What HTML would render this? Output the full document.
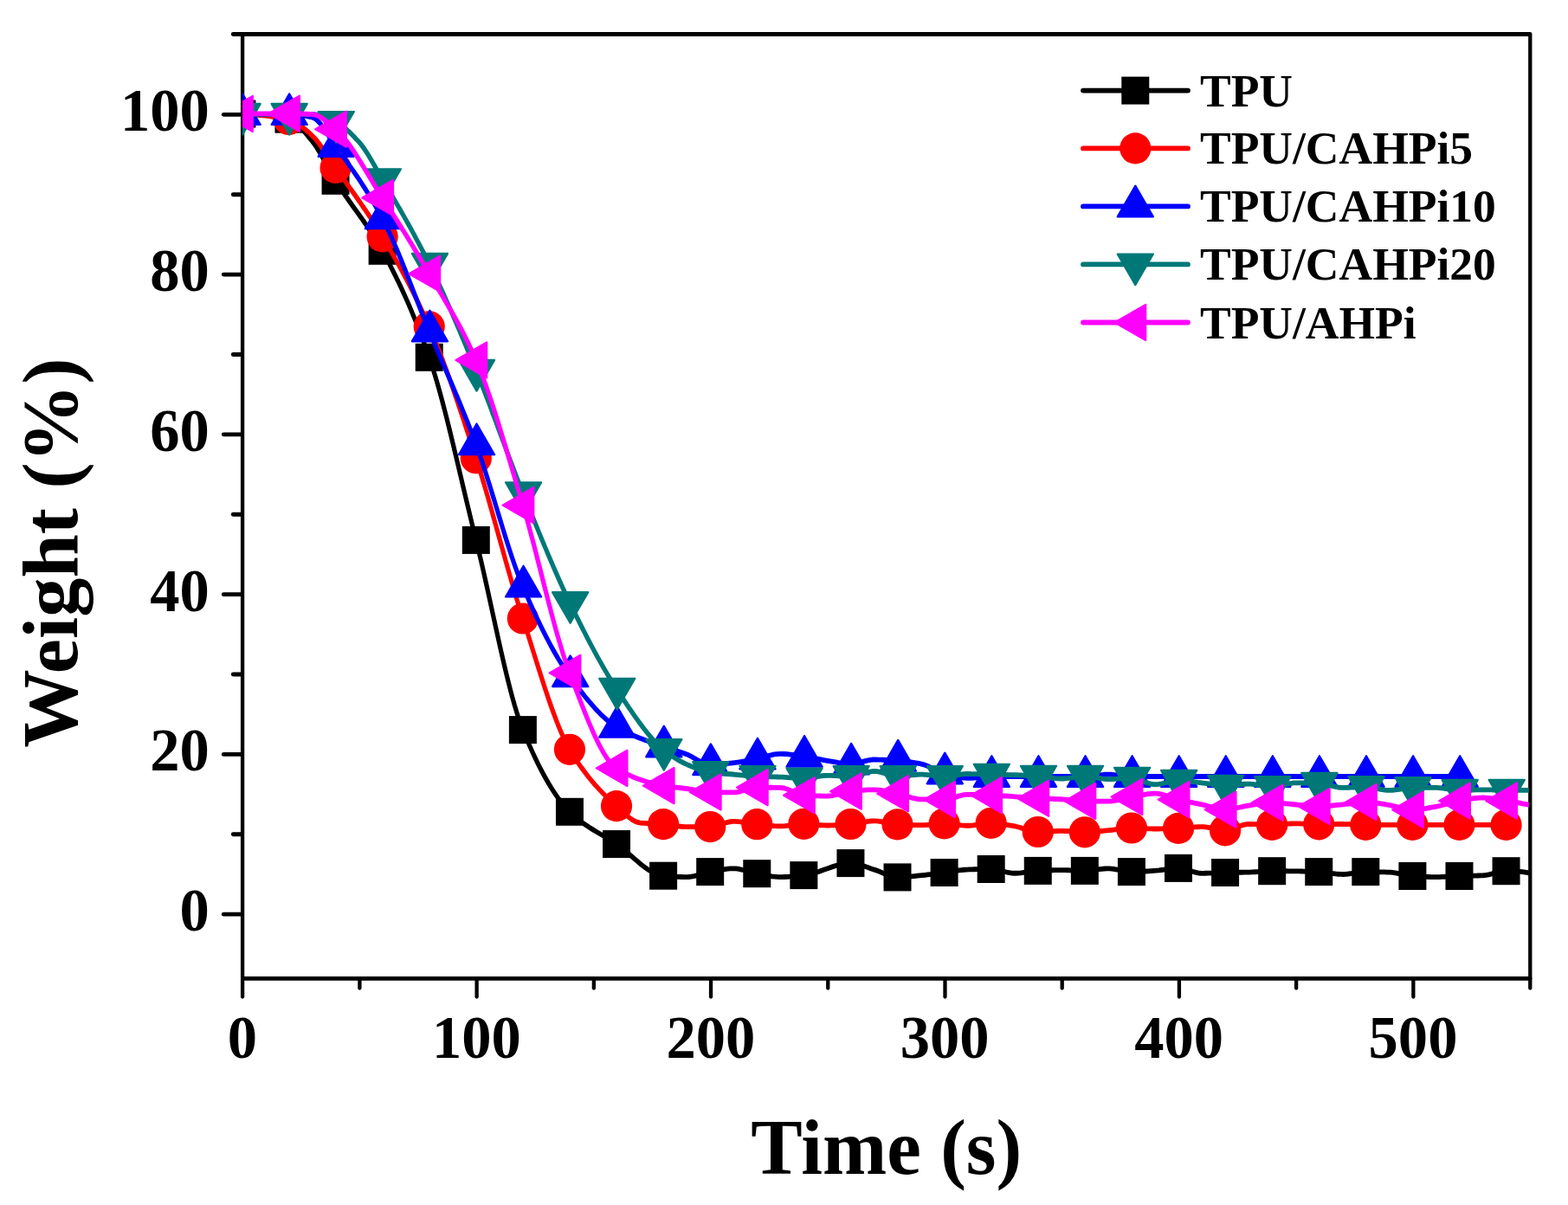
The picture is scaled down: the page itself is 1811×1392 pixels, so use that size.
<!DOCTYPE html>
<html><head><meta charset="utf-8"><title>Weight vs Time</title>
<style>
html,body{margin:0;padding:0;background:#fff;}
body{width:1811px;height:1392px;overflow:hidden;}
svg{display:block;}
text{font-family:"Liberation Serif",serif;font-weight:bold;fill:#000;}
.tk{font-size:68px;}
.ti{font-size:90px;}
.lg{font-size:53.5px;}
</style></head><body>
<svg width="1811" height="1392" viewBox="0 0 1811 1392">
<rect width="1811" height="1392" fill="#fff"/>
<defs><clipPath id="c"><rect x="280.0" y="39.45" width="1485.6999999999998" height="1090.95"/></clipPath></defs>

<g stroke="#000" stroke-width="4.9" stroke-linecap="round" fill="none">
<line x1="280.1" y1="39.45" x2="1766.60" y2="39.45"/>
<line x1="280.80" y1="1130.4" x2="1766.60" y2="1130.4"/>
<line x1="279.6" y1="1056.13" x2="258.3" y2="1056.13"/>
<line x1="279.6" y1="871.38" x2="258.3" y2="871.38"/>
<line x1="279.6" y1="686.63" x2="258.3" y2="686.63"/>
<line x1="279.6" y1="501.87" x2="258.3" y2="501.87"/>
<line x1="279.6" y1="317.12" x2="258.3" y2="317.12"/>
<line x1="279.6" y1="132.37" x2="258.3" y2="132.37"/>
<line x1="279.6" y1="963.75" x2="269.3" y2="963.75"/>
<line x1="279.6" y1="779.00" x2="269.3" y2="779.00"/>
<line x1="279.6" y1="594.25" x2="269.3" y2="594.25"/>
<line x1="279.6" y1="409.50" x2="269.3" y2="409.50"/>
<line x1="279.6" y1="224.75" x2="269.3" y2="224.75"/>
<line x1="279.6" y1="39.45" x2="269.3" y2="39.45"/>
</g>
<g stroke="#000" stroke-width="4.3" stroke-linecap="round" fill="none">
<line x1="280.1" y1="39.45" x2="280.1" y2="1130.4"/>
<line x1="1767.3" y1="39.45" x2="1767.3" y2="1130.4"/>
<line x1="280.10" y1="1130.4" x2="280.10" y2="1151.5"/>
<line x1="550.63" y1="1130.4" x2="550.63" y2="1151.5"/>
<line x1="821.06" y1="1130.4" x2="821.06" y2="1151.5"/>
<line x1="1091.49" y1="1130.4" x2="1091.49" y2="1151.5"/>
<line x1="1361.92" y1="1130.4" x2="1361.92" y2="1151.5"/>
<line x1="1632.35" y1="1130.4" x2="1632.35" y2="1151.5"/>
<line x1="415.41" y1="1130.4" x2="415.41" y2="1141.5"/>
<line x1="685.85" y1="1130.4" x2="685.85" y2="1141.5"/>
<line x1="956.27" y1="1130.4" x2="956.27" y2="1141.5"/>
<line x1="1226.70" y1="1130.4" x2="1226.70" y2="1141.5"/>
<line x1="1497.13" y1="1130.4" x2="1497.13" y2="1141.5"/>
<line x1="1767.30" y1="1130.4" x2="1767.30" y2="1141.5"/>
</g>
<g clip-path="url(#c)">
<path transform="scale(1,1.12)" d="M279.4,117.41 L282.4,117.43 L285.4,117.48 L288.4,117.57 L291.4,117.69 L294.4,117.85 L297.4,118.04 L300.4,118.27 L303.4,118.53 L306.4,118.82 L309.4,119.15 L312.4,119.51 L315.4,119.90 L318.4,120.33 L321.4,120.79 L324.4,121.28 L327.4,121.80 L330.4,122.35 L333.4,122.93 L336.4,123.84 L339.4,125.35 L342.4,127.38 L345.4,129.83 L348.4,132.62 L351.4,135.66 L354.4,138.86 L357.4,142.14 L360.4,145.41 L363.4,148.91 L366.4,152.94 L369.4,157.38 L372.4,162.12 L375.4,167.03 L378.4,172.01 L381.4,176.95 L384.4,181.71 L387.4,186.20 L390.4,190.42 L393.4,194.51 L396.4,198.49 L399.4,202.37 L402.4,206.18 L405.4,209.94 L408.4,213.66 L411.4,217.38 L414.4,221.10 L417.4,224.85 L420.4,228.65 L423.4,232.53 L426.4,236.49 L429.4,240.56 L432.4,244.76 L435.4,249.12 L438.4,253.65 L441.4,258.36 L444.4,263.24 L447.4,268.23 L450.4,273.33 L453.4,278.55 L456.4,283.89 L459.4,289.37 L462.4,294.98 L465.4,300.74 L468.4,306.65 L471.4,312.72 L474.4,318.96 L477.4,325.36 L480.4,331.95 L483.4,338.71 L486.4,345.67 L489.4,352.83 L492.4,360.18 L495.4,367.75 L498.4,375.68 L501.4,384.15 L504.4,393.12 L507.4,402.55 L510.4,412.38 L513.4,422.57 L516.4,433.08 L519.4,443.84 L522.4,454.83 L525.4,465.98 L528.4,477.25 L531.4,488.60 L534.4,499.98 L537.4,511.34 L540.4,522.63 L543.4,533.81 L546.4,544.82 L549.4,555.63 L552.4,566.47 L555.4,577.76 L558.4,589.41 L561.4,601.35 L564.4,613.49 L567.4,625.75 L570.4,638.04 L573.4,650.28 L576.4,662.39 L579.4,674.29 L582.4,685.89 L585.4,697.10 L588.4,707.85 L591.4,718.05 L594.4,727.62 L597.4,736.48 L600.4,744.53 L603.4,751.71 L606.4,758.20 L609.4,764.50 L612.4,770.61 L615.4,776.52 L618.4,782.23 L621.4,787.74 L624.4,793.04 L627.4,798.13 L630.4,803.01 L633.4,807.68 L636.4,812.12 L639.4,816.35 L642.4,820.34 L645.4,824.11 L648.4,827.65 L651.4,830.95 L654.4,834.01 L657.4,836.82 L660.4,839.42 L663.4,841.85 L666.4,844.13 L669.4,846.27 L672.4,848.29 L675.4,850.21 L678.4,852.03 L681.4,853.78 L684.4,855.46 L687.4,857.10 L690.4,858.70 L693.4,860.28 L696.4,861.86 L699.4,863.45 L702.4,865.06 L705.4,866.71 L708.4,868.42 L711.4,870.19 L714.4,872.07 L717.4,874.10 L720.4,876.24 L723.4,878.48 L726.4,880.78 L729.4,883.12 L732.4,885.46 L735.4,887.77 L738.4,890.03 L741.4,892.21 L744.4,894.28 L747.4,896.21 L750.4,897.97 L753.4,899.54 L756.4,900.87 L759.4,901.96 L762.4,902.75 L765.4,903.24 L768.4,903.48 L771.4,903.70 L774.4,903.90 L777.4,904.08 L780.4,904.23 L783.4,904.36 L786.4,904.46 L789.4,904.52 L792.4,904.55 L795.4,904.48 L798.4,904.15 L801.4,903.63 L804.4,902.97 L807.4,902.21 L810.4,901.41 L813.4,900.63 L816.4,899.92 L819.4,899.33 L822.4,898.85 L825.4,898.35 L828.4,897.84 L831.4,897.34 L834.4,896.88 L837.4,896.47 L840.4,896.15 L843.4,895.92 L846.4,895.81 L849.4,895.87 L852.4,896.18 L855.4,896.69 L858.4,897.34 L861.4,898.08 L864.4,898.86 L867.4,899.63 L870.4,900.34 L873.4,900.93 L876.4,901.41 L879.4,901.92 L882.4,902.44 L885.4,902.95 L888.4,903.43 L891.4,903.85 L894.4,904.19 L897.4,904.43 L900.4,904.55 L903.4,904.54 L906.4,904.46 L909.4,904.33 L912.4,904.16 L915.4,903.95 L918.4,903.70 L921.4,903.43 L924.4,903.15 L927.4,902.86 L930.4,902.53 L933.4,902.06 L936.4,901.46 L939.4,900.74 L942.4,899.93 L945.4,899.05 L948.4,898.12 L951.4,897.16 L954.4,896.19 L957.4,895.22 L960.4,894.29 L963.4,893.40 L966.4,892.59 L969.4,891.87 L972.4,891.25 L975.4,890.77 L978.4,890.44 L981.4,890.28 L984.4,890.33 L987.4,890.65 L990.4,891.21 L993.4,891.94 L996.4,892.80 L999.4,893.75 L1002.4,894.72 L1005.4,895.68 L1008.4,896.58 L1011.4,897.43 L1014.4,898.45 L1017.4,899.58 L1020.4,900.75 L1023.4,901.90 L1026.4,902.95 L1029.4,903.83 L1032.4,904.47 L1035.4,904.79 L1038.4,904.81 L1041.4,904.72 L1044.4,904.57 L1047.4,904.38 L1050.4,904.14 L1053.4,903.88 L1056.4,903.60 L1059.4,903.32 L1062.4,903.05 L1065.4,902.79 L1068.4,902.50 L1071.4,902.19 L1074.4,901.87 L1077.4,901.53 L1080.4,901.18 L1083.4,900.83 L1086.4,900.48 L1089.4,900.14 L1092.4,899.79 L1095.4,899.40 L1098.4,898.97 L1101.4,898.54 L1104.4,898.12 L1107.4,897.72 L1110.4,897.38 L1113.4,897.11 L1116.4,896.92 L1119.4,896.83 L1122.4,896.74 L1125.4,896.67 L1128.4,896.61 L1131.4,896.55 L1134.4,896.50 L1137.4,896.47 L1140.4,896.44 L1143.4,896.43 L1146.4,896.48 L1149.4,896.77 L1152.4,897.28 L1155.4,897.92 L1158.4,898.62 L1161.4,899.32 L1164.4,899.94 L1167.4,900.42 L1170.4,900.68 L1173.4,900.69 L1176.4,900.54 L1179.4,900.27 L1182.4,899.93 L1185.4,899.54 L1188.4,899.14 L1191.4,898.76 L1194.4,898.43 L1197.4,898.19 L1200.4,898.06 L1203.4,897.94 L1206.4,897.82 L1209.4,897.72 L1212.4,897.62 L1215.4,897.54 L1218.4,897.48 L1221.4,897.44 L1224.4,897.41 L1227.4,897.42 L1230.4,897.47 L1233.4,897.55 L1236.4,897.65 L1239.4,897.77 L1242.4,897.89 L1245.4,897.99 L1248.4,898.07 L1251.4,898.12 L1254.4,898.10 L1257.4,897.95 L1260.4,897.68 L1263.4,897.34 L1266.4,896.96 L1269.4,896.58 L1272.4,896.24 L1275.4,895.97 L1278.4,895.82 L1281.4,895.83 L1284.4,896.06 L1287.4,896.44 L1290.4,896.94 L1293.4,897.50 L1296.4,898.06 L1299.4,898.56 L1302.4,898.94 L1305.4,899.17 L1308.4,899.19 L1311.4,899.15 L1314.4,899.07 L1317.4,898.96 L1320.4,898.82 L1323.4,898.66 L1326.4,898.49 L1329.4,898.31 L1332.4,898.13 L1335.4,897.94 L1338.4,897.67 L1341.4,897.32 L1344.4,896.94 L1347.4,896.55 L1350.4,896.18 L1353.4,895.85 L1356.4,895.61 L1359.4,895.47 L1362.4,895.49 L1365.4,895.82 L1368.4,896.41 L1371.4,897.18 L1374.4,898.05 L1377.4,898.91 L1380.4,899.69 L1383.4,900.30 L1386.4,900.66 L1389.4,900.71 L1392.4,900.67 L1395.4,900.61 L1398.4,900.52 L1401.4,900.42 L1404.4,900.32 L1407.4,900.21 L1410.4,900.11 L1413.4,900.03 L1416.4,899.98 L1419.4,899.93 L1422.4,899.90 L1425.4,899.86 L1428.4,899.83 L1431.4,899.80 L1434.4,899.77 L1437.4,899.73 L1440.4,899.68 L1443.4,899.61 L1446.4,899.50 L1449.4,899.34 L1452.4,899.16 L1455.4,898.96 L1458.4,898.78 L1461.4,898.61 L1464.4,898.48 L1467.4,898.41 L1470.4,898.39 L1473.4,898.40 L1476.4,898.41 L1479.4,898.43 L1482.4,898.45 L1485.4,898.47 L1488.4,898.49 L1491.4,898.52 L1494.4,898.55 L1497.4,898.58 L1500.4,898.62 L1503.4,898.67 L1506.4,898.72 L1509.4,898.79 L1512.4,898.86 L1515.4,898.94 L1518.4,899.03 L1521.4,899.13 L1524.4,899.25 L1527.4,899.47 L1530.4,899.79 L1533.4,900.17 L1536.4,900.57 L1539.4,900.96 L1542.4,901.31 L1545.4,901.59 L1548.4,901.75 L1551.4,901.77 L1554.4,901.62 L1557.4,901.34 L1560.4,900.97 L1563.4,900.55 L1566.4,900.12 L1569.4,899.73 L1572.4,899.42 L1575.4,899.23 L1578.4,899.20 L1581.4,899.21 L1584.4,899.23 L1587.4,899.27 L1590.4,899.31 L1593.4,899.37 L1596.4,899.43 L1599.4,899.51 L1602.4,899.59 L1605.4,899.69 L1608.4,899.94 L1611.4,900.34 L1614.4,900.85 L1617.4,901.42 L1620.4,902.00 L1623.4,902.56 L1626.4,903.05 L1629.4,903.41 L1632.4,903.63 L1635.4,903.80 L1638.4,903.96 L1641.4,904.11 L1644.4,904.24 L1647.4,904.35 L1650.4,904.44 L1653.4,904.51 L1656.4,904.55 L1659.4,904.55 L1662.4,904.51 L1665.4,904.43 L1668.4,904.32 L1671.4,904.18 L1674.4,904.04 L1677.4,903.89 L1680.4,903.76 L1683.4,903.64 L1686.4,903.55 L1689.4,903.47 L1692.4,903.41 L1695.4,903.36 L1698.4,903.31 L1701.4,903.26 L1704.4,903.20 L1707.4,903.12 L1710.4,903.03 L1713.4,902.90 L1716.4,902.58 L1719.4,902.06 L1722.4,901.41 L1725.4,900.69 L1728.4,899.97 L1731.4,899.32 L1734.4,898.79 L1737.4,898.47 L1740.4,898.39 L1743.4,898.42 L1746.4,898.48 L1749.4,898.59 L1752.4,898.75 L1755.4,898.97 L1758.4,899.26 L1761.4,899.63 L1764.4,900.08 L1767.4,900.63 L1770.3,901.25" fill="none" stroke="#000000" stroke-width="5.2" stroke-linejoin="round" stroke-linecap="round"/>
<rect x="263.40" y="115.50" width="32.00" height="32.00" fill="#000000"/>
<rect x="317.48" y="121.70" width="32.00" height="32.00" fill="#000000"/>
<rect x="371.56" y="192.80" width="32.00" height="32.00" fill="#000000"/>
<rect x="425.64" y="273.80" width="32.00" height="32.00" fill="#000000"/>
<rect x="479.72" y="396.80" width="32.00" height="32.00" fill="#000000"/>
<rect x="533.80" y="607.90" width="32.00" height="32.00" fill="#000000"/>
<rect x="587.88" y="827.10" width="32.00" height="32.00" fill="#000000"/>
<rect x="641.96" y="921.80" width="32.00" height="32.00" fill="#000000"/>
<rect x="696.04" y="959.05" width="32.00" height="32.00" fill="#000000"/>
<rect x="750.12" y="995.70" width="32.00" height="32.00" fill="#000000"/>
<rect x="804.20" y="991.10" width="32.00" height="32.00" fill="#000000"/>
<rect x="858.28" y="993.20" width="32.00" height="32.00" fill="#000000"/>
<rect x="912.36" y="995.10" width="32.00" height="32.00" fill="#000000"/>
<rect x="966.44" y="981.10" width="32.00" height="32.00" fill="#000000"/>
<rect x="1020.52" y="997.40" width="32.00" height="32.00" fill="#000000"/>
<rect x="1074.60" y="992.00" width="32.00" height="32.00" fill="#000000"/>
<rect x="1128.68" y="988.00" width="32.00" height="32.00" fill="#000000"/>
<rect x="1182.76" y="989.90" width="32.00" height="32.00" fill="#000000"/>
<rect x="1236.84" y="989.90" width="32.00" height="32.00" fill="#000000"/>
<rect x="1290.92" y="991.10" width="32.00" height="32.00" fill="#000000"/>
<rect x="1345.00" y="986.90" width="32.00" height="32.00" fill="#000000"/>
<rect x="1399.08" y="992.00" width="32.00" height="32.00" fill="#000000"/>
<rect x="1453.16" y="990.20" width="32.00" height="32.00" fill="#000000"/>
<rect x="1507.24" y="991.10" width="32.00" height="32.00" fill="#000000"/>
<rect x="1561.32" y="991.10" width="32.00" height="32.00" fill="#000000"/>
<rect x="1615.40" y="996.00" width="32.00" height="32.00" fill="#000000"/>
<rect x="1669.48" y="996.00" width="32.00" height="32.00" fill="#000000"/>
<rect x="1723.56" y="990.20" width="32.00" height="32.00" fill="#000000"/>
<path transform="scale(1,1.12)" d="M279.4,117.86 L282.4,117.88 L285.4,117.93 L288.4,118.02 L291.4,118.15 L294.4,118.31 L297.4,118.50 L300.4,118.73 L303.4,118.99 L306.4,119.28 L309.4,119.60 L312.4,119.95 L315.4,120.33 L318.4,120.74 L321.4,121.18 L324.4,121.64 L327.4,122.14 L330.4,122.66 L333.4,123.20 L336.4,123.96 L339.4,125.10 L342.4,126.59 L345.4,128.36 L348.4,130.38 L351.4,132.58 L354.4,134.92 L357.4,137.35 L360.4,139.81 L363.4,142.50 L366.4,145.63 L369.4,149.12 L372.4,152.88 L375.4,156.83 L378.4,160.89 L381.4,164.99 L384.4,169.02 L387.4,172.92 L390.4,176.71 L393.4,180.47 L396.4,184.22 L399.4,187.96 L402.4,191.71 L405.4,195.47 L408.4,199.24 L411.4,203.03 L414.4,206.85 L417.4,210.71 L420.4,214.62 L423.4,218.57 L426.4,222.58 L429.4,226.66 L432.4,230.81 L435.4,235.03 L438.4,239.35 L441.4,243.75 L444.4,248.23 L447.4,252.76 L450.4,257.35 L453.4,261.99 L456.4,266.70 L459.4,271.48 L462.4,276.34 L465.4,281.28 L468.4,286.30 L471.4,291.41 L474.4,296.62 L477.4,301.93 L480.4,307.35 L483.4,312.88 L486.4,318.53 L489.4,324.30 L492.4,330.19 L495.4,336.22 L498.4,342.43 L501.4,348.85 L504.4,355.47 L507.4,362.30 L510.4,369.30 L513.4,376.48 L516.4,383.81 L519.4,391.29 L522.4,398.91 L525.4,406.64 L528.4,414.48 L531.4,422.42 L534.4,430.45 L537.4,438.54 L540.4,446.70 L543.4,454.90 L546.4,463.14 L549.4,471.40 L552.4,479.78 L555.4,488.43 L558.4,497.32 L561.4,506.42 L564.4,515.70 L567.4,525.11 L570.4,534.63 L573.4,544.22 L576.4,553.85 L579.4,563.48 L582.4,573.09 L585.4,582.63 L588.4,592.07 L591.4,601.38 L594.4,610.52 L597.4,619.47 L600.4,628.18 L603.4,636.62 L606.4,644.93 L609.4,653.36 L612.4,661.88 L615.4,670.44 L618.4,679.01 L621.4,687.54 L624.4,695.99 L627.4,704.33 L630.4,712.50 L633.4,720.48 L636.4,728.22 L639.4,735.67 L642.4,742.80 L645.4,749.57 L648.4,755.93 L651.4,761.85 L654.4,767.28 L657.4,772.18 L660.4,776.65 L663.4,780.93 L666.4,785.04 L669.4,788.98 L672.4,792.76 L675.4,796.39 L678.4,799.88 L681.4,803.23 L684.4,806.46 L687.4,809.56 L690.4,812.54 L693.4,815.42 L696.4,818.20 L699.4,820.88 L702.4,823.48 L705.4,826.00 L708.4,828.45 L711.4,830.84 L714.4,833.23 L717.4,835.72 L720.4,838.23 L723.4,840.66 L726.4,842.92 L729.4,844.94 L732.4,846.61 L735.4,847.86 L738.4,848.58 L741.4,848.87 L744.4,849.08 L747.4,849.25 L750.4,849.39 L753.4,849.50 L756.4,849.61 L759.4,849.73 L762.4,849.87 L765.4,850.04 L768.4,850.27 L771.4,850.59 L774.4,850.96 L777.4,851.36 L780.4,851.76 L783.4,852.13 L786.4,852.44 L789.4,852.66 L792.4,852.76 L795.4,852.77 L798.4,852.77 L801.4,852.76 L804.4,852.76 L807.4,852.76 L810.4,852.75 L813.4,852.74 L816.4,852.73 L819.4,852.73 L822.4,852.61 L825.4,852.18 L828.4,851.50 L831.4,850.66 L834.4,849.76 L837.4,848.88 L840.4,848.10 L843.4,847.53 L846.4,847.25 L849.4,847.27 L852.4,847.44 L855.4,847.73 L858.4,848.09 L861.4,848.50 L864.4,848.94 L867.4,849.37 L870.4,849.77 L873.4,850.10 L876.4,850.37 L879.4,850.66 L882.4,850.95 L885.4,851.24 L888.4,851.51 L891.4,851.74 L894.4,851.94 L897.4,852.07 L900.4,852.14 L903.4,852.10 L906.4,851.93 L909.4,851.64 L912.4,851.29 L915.4,850.91 L918.4,850.53 L921.4,850.20 L924.4,849.96 L927.4,849.83 L930.4,849.85 L933.4,849.96 L936.4,850.14 L939.4,850.37 L942.4,850.62 L945.4,850.87 L948.4,851.09 L951.4,851.25 L954.4,851.33 L957.4,851.33 L960.4,851.27 L963.4,851.17 L966.4,851.04 L969.4,850.88 L972.4,850.70 L975.4,850.50 L978.4,850.29 L981.4,850.07 L984.4,849.83 L987.4,849.47 L990.4,849.03 L993.4,848.54 L996.4,848.04 L999.4,847.57 L1002.4,847.16 L1005.4,846.86 L1008.4,846.71 L1011.4,846.74 L1014.4,846.98 L1017.4,847.38 L1020.4,847.89 L1023.4,848.45 L1026.4,849.03 L1029.4,849.56 L1032.4,850.00 L1035.4,850.29 L1038.4,850.44 L1041.4,850.56 L1044.4,850.68 L1047.4,850.78 L1050.4,850.87 L1053.4,850.95 L1056.4,851.01 L1059.4,851.05 L1062.4,851.07 L1065.4,851.05 L1068.4,850.94 L1071.4,850.74 L1074.4,850.50 L1077.4,850.24 L1080.4,849.98 L1083.4,849.75 L1086.4,849.57 L1089.4,849.47 L1092.4,849.49 L1095.4,849.64 L1098.4,849.90 L1101.4,850.22 L1104.4,850.57 L1107.4,850.92 L1110.4,851.23 L1113.4,851.47 L1116.4,851.59 L1119.4,851.57 L1122.4,851.39 L1125.4,851.07 L1128.4,850.67 L1131.4,850.23 L1134.4,849.80 L1137.4,849.41 L1140.4,849.11 L1143.4,848.95 L1146.4,848.95 L1149.4,849.08 L1152.4,849.32 L1155.4,849.65 L1158.4,850.04 L1161.4,850.49 L1164.4,850.96 L1167.4,851.45 L1170.4,851.94 L1173.4,852.44 L1176.4,853.10 L1179.4,853.90 L1182.4,854.78 L1185.4,855.66 L1188.4,856.48 L1191.4,857.19 L1194.4,857.72 L1197.4,858.00 L1200.4,858.03 L1203.4,857.96 L1206.4,857.84 L1209.4,857.70 L1212.4,857.54 L1215.4,857.38 L1218.4,857.23 L1221.4,857.12 L1224.4,857.06 L1227.4,857.07 L1230.4,857.15 L1233.4,857.29 L1236.4,857.48 L1239.4,857.68 L1242.4,857.89 L1245.4,858.07 L1248.4,858.21 L1251.4,858.29 L1254.4,858.29 L1257.4,858.22 L1260.4,858.08 L1263.4,857.89 L1266.4,857.67 L1269.4,857.42 L1272.4,857.15 L1275.4,856.89 L1278.4,856.64 L1281.4,856.39 L1284.4,856.09 L1287.4,855.74 L1290.4,855.37 L1293.4,855.01 L1296.4,854.67 L1299.4,854.37 L1302.4,854.16 L1305.4,854.03 L1308.4,854.03 L1311.4,854.08 L1314.4,854.19 L1317.4,854.32 L1320.4,854.46 L1323.4,854.61 L1326.4,854.74 L1329.4,854.84 L1332.4,854.90 L1335.4,854.91 L1338.4,854.89 L1341.4,854.86 L1344.4,854.81 L1347.4,854.75 L1350.4,854.67 L1353.4,854.59 L1356.4,854.51 L1359.4,854.42 L1362.4,854.33 L1365.4,854.17 L1368.4,853.96 L1371.4,853.73 L1374.4,853.48 L1377.4,853.24 L1380.4,853.03 L1383.4,852.87 L1386.4,852.78 L1389.4,852.80 L1392.4,853.03 L1395.4,853.45 L1398.4,854.00 L1401.4,854.61 L1404.4,855.22 L1407.4,855.78 L1410.4,856.22 L1413.4,856.48 L1416.4,856.47 L1419.4,856.07 L1422.4,855.34 L1425.4,854.39 L1428.4,853.33 L1431.4,852.26 L1434.4,851.29 L1437.4,850.53 L1440.4,850.08 L1443.4,850.01 L1446.4,850.05 L1449.4,850.14 L1452.4,850.26 L1455.4,850.39 L1458.4,850.52 L1461.4,850.64 L1464.4,850.74 L1467.4,850.79 L1470.4,850.80 L1473.4,850.72 L1476.4,850.57 L1479.4,850.37 L1482.4,850.15 L1485.4,849.93 L1488.4,849.73 L1491.4,849.58 L1494.4,849.48 L1497.4,849.47 L1500.4,849.52 L1503.4,849.60 L1506.4,849.72 L1509.4,849.85 L1512.4,849.98 L1515.4,850.10 L1518.4,850.20 L1521.4,850.26 L1524.4,850.27 L1527.4,850.25 L1530.4,850.22 L1533.4,850.18 L1536.4,850.14 L1539.4,850.10 L1542.4,850.05 L1545.4,850.02 L1548.4,850.00 L1551.4,850.00 L1554.4,850.05 L1557.4,850.14 L1560.4,850.25 L1563.4,850.38 L1566.4,850.52 L1569.4,850.64 L1572.4,850.73 L1575.4,850.79 L1578.4,850.80 L1581.4,850.80 L1584.4,850.80 L1587.4,850.80 L1590.4,850.80 L1593.4,850.80 L1596.4,850.80 L1599.4,850.80 L1602.4,850.80 L1605.4,850.80 L1608.4,850.80 L1611.4,850.80 L1614.4,850.80 L1617.4,850.80 L1620.4,850.80 L1623.4,850.80 L1626.4,850.80 L1629.4,850.80 L1632.4,850.80 L1635.4,850.80 L1638.4,850.80 L1641.4,850.80 L1644.4,850.80 L1647.4,850.80 L1650.4,850.80 L1653.4,850.80 L1656.4,850.80 L1659.4,850.80 L1662.4,850.80 L1665.4,850.80 L1668.4,850.80 L1671.4,850.80 L1674.4,850.80 L1677.4,850.80 L1680.4,850.80 L1683.4,850.80 L1686.4,850.80 L1689.4,850.80 L1692.4,850.80 L1695.4,850.80 L1698.4,850.80 L1701.4,850.80 L1704.4,850.80 L1707.4,850.80 L1710.4,850.80 L1713.4,850.80 L1716.4,850.80 L1719.4,850.80 L1722.4,850.80 L1725.4,850.80 L1728.4,850.80 L1731.4,850.80 L1734.4,850.80 L1737.4,850.80 L1739.6,850.80" fill="none" stroke="#ff0000" stroke-width="5.2" stroke-linejoin="round" stroke-linecap="round"/>
<circle cx="279.40" cy="132.00" r="18.1" fill="#ff0000"/>
<circle cx="333.48" cy="138.00" r="18.1" fill="#ff0000"/>
<circle cx="387.56" cy="193.90" r="18.1" fill="#ff0000"/>
<circle cx="441.64" cy="273.40" r="18.1" fill="#ff0000"/>
<circle cx="495.72" cy="377.30" r="18.1" fill="#ff0000"/>
<circle cx="549.80" cy="529.20" r="18.1" fill="#ff0000"/>
<circle cx="603.88" cy="714.50" r="18.1" fill="#ff0000"/>
<circle cx="657.96" cy="865.80" r="18.1" fill="#ff0000"/>
<circle cx="712.04" cy="931.10" r="18.1" fill="#ff0000"/>
<circle cx="766.12" cy="952.10" r="18.1" fill="#ff0000"/>
<circle cx="820.20" cy="955.05" r="18.1" fill="#ff0000"/>
<circle cx="874.28" cy="952.20" r="18.1" fill="#ff0000"/>
<circle cx="928.36" cy="951.80" r="18.1" fill="#ff0000"/>
<circle cx="982.44" cy="952.00" r="18.1" fill="#ff0000"/>
<circle cx="1036.52" cy="952.40" r="18.1" fill="#ff0000"/>
<circle cx="1090.60" cy="951.40" r="18.1" fill="#ff0000"/>
<circle cx="1144.68" cy="950.80" r="18.1" fill="#ff0000"/>
<circle cx="1198.76" cy="961.00" r="18.1" fill="#ff0000"/>
<circle cx="1252.84" cy="961.30" r="18.1" fill="#ff0000"/>
<circle cx="1306.92" cy="956.50" r="18.1" fill="#ff0000"/>
<circle cx="1361.00" cy="956.90" r="18.1" fill="#ff0000"/>
<circle cx="1415.08" cy="959.30" r="18.1" fill="#ff0000"/>
<circle cx="1469.16" cy="952.90" r="18.1" fill="#ff0000"/>
<circle cx="1523.24" cy="952.30" r="18.1" fill="#ff0000"/>
<circle cx="1577.32" cy="952.90" r="18.1" fill="#ff0000"/>
<circle cx="1631.40" cy="952.90" r="18.1" fill="#ff0000"/>
<circle cx="1685.48" cy="952.90" r="18.1" fill="#ff0000"/>
<circle cx="1739.56" cy="952.90" r="18.1" fill="#ff0000"/>
<path transform="scale(1,1.12)" d="M279.4,117.95 L282.4,117.95 L285.4,117.95 L288.4,117.95 L291.4,117.95 L294.4,117.95 L297.4,117.95 L300.4,117.95 L303.4,117.95 L306.4,117.95 L309.4,117.95 L312.4,117.95 L315.4,117.95 L318.4,117.95 L321.4,117.95 L324.4,117.95 L327.4,117.95 L330.4,117.95 L333.4,117.95 L336.4,117.99 L339.4,118.11 L342.4,118.32 L345.4,118.60 L348.4,118.95 L351.4,119.36 L354.4,119.84 L357.4,120.37 L360.4,120.96 L363.4,122.06 L366.4,124.13 L369.4,126.98 L372.4,130.45 L375.4,134.34 L378.4,138.49 L381.4,142.71 L384.4,146.84 L387.4,150.70 L390.4,154.34 L393.4,157.99 L396.4,161.67 L399.4,165.38 L402.4,169.13 L405.4,172.93 L408.4,176.78 L411.4,180.69 L414.4,184.67 L417.4,188.72 L420.4,192.87 L423.4,197.10 L426.4,201.43 L429.4,205.87 L432.4,210.43 L435.4,215.11 L438.4,219.92 L441.4,224.87 L444.4,230.02 L447.4,235.47 L450.4,241.18 L453.4,247.12 L456.4,253.28 L459.4,259.62 L462.4,266.11 L465.4,272.75 L468.4,279.49 L471.4,286.31 L474.4,293.18 L477.4,300.09 L480.4,307.01 L483.4,313.90 L486.4,320.74 L489.4,327.51 L492.4,334.19 L495.4,340.74 L498.4,347.17 L501.4,353.54 L504.4,359.86 L507.4,366.14 L510.4,372.39 L513.4,378.63 L516.4,384.88 L519.4,391.13 L522.4,397.41 L525.4,403.74 L528.4,410.11 L531.4,416.56 L534.4,423.08 L537.4,429.69 L540.4,436.41 L543.4,443.25 L546.4,450.23 L549.4,457.34 L552.4,464.71 L555.4,472.43 L558.4,480.47 L561.4,488.77 L564.4,497.28 L567.4,505.95 L570.4,514.73 L573.4,523.57 L576.4,532.41 L579.4,541.22 L582.4,549.92 L585.4,558.49 L588.4,566.85 L591.4,574.97 L594.4,582.79 L597.4,590.26 L600.4,597.32 L603.4,603.94 L606.4,610.21 L609.4,616.36 L612.4,622.41 L615.4,628.34 L618.4,634.15 L621.4,639.84 L624.4,645.40 L627.4,650.83 L630.4,656.12 L633.4,661.27 L636.4,666.27 L639.4,671.12 L642.4,675.82 L645.4,680.35 L648.4,684.71 L651.4,688.91 L654.4,692.92 L657.4,696.76 L660.4,700.46 L663.4,704.11 L666.4,707.72 L669.4,711.26 L672.4,714.73 L675.4,718.13 L678.4,721.43 L681.4,724.64 L684.4,727.75 L687.4,730.74 L690.4,733.61 L693.4,736.34 L696.4,738.93 L699.4,741.38 L702.4,743.66 L705.4,745.78 L708.4,747.72 L711.4,749.47 L714.4,751.06 L717.4,752.56 L720.4,753.98 L723.4,755.32 L726.4,756.59 L729.4,757.80 L732.4,758.95 L735.4,760.05 L738.4,761.11 L741.4,762.13 L744.4,763.12 L747.4,764.09 L750.4,765.04 L753.4,765.98 L756.4,766.91 L759.4,767.85 L762.4,768.80 L765.4,769.77 L768.4,770.73 L771.4,771.64 L774.4,772.51 L777.4,773.36 L780.4,774.20 L783.4,775.04 L786.4,775.91 L789.4,776.82 L792.4,777.78 L795.4,778.88 L798.4,780.22 L801.4,781.72 L804.4,783.28 L807.4,784.80 L810.4,786.19 L813.4,787.34 L816.4,788.16 L819.4,788.55 L822.4,788.55 L825.4,788.47 L828.4,788.34 L831.4,788.16 L834.4,787.94 L837.4,787.69 L840.4,787.42 L843.4,787.15 L846.4,786.86 L849.4,786.57 L852.4,786.21 L855.4,785.79 L858.4,785.33 L861.4,784.84 L864.4,784.33 L867.4,783.80 L870.4,783.26 L873.4,782.74 L876.4,782.19 L879.4,781.54 L882.4,780.81 L885.4,780.06 L888.4,779.33 L891.4,778.66 L894.4,778.11 L897.4,777.71 L900.4,777.51 L903.4,777.53 L906.4,777.65 L909.4,777.87 L912.4,778.15 L915.4,778.49 L918.4,778.87 L921.4,779.27 L924.4,779.67 L927.4,780.06 L930.4,780.44 L933.4,780.88 L936.4,781.36 L939.4,781.86 L942.4,782.39 L945.4,782.92 L948.4,783.44 L951.4,783.94 L954.4,784.41 L957.4,784.85 L960.4,785.34 L963.4,785.86 L966.4,786.37 L969.4,786.85 L972.4,787.29 L975.4,787.64 L978.4,787.90 L981.4,788.03 L984.4,787.97 L987.4,787.63 L990.4,787.08 L993.4,786.40 L996.4,785.65 L999.4,784.91 L1002.4,784.26 L1005.4,783.76 L1008.4,783.50 L1011.4,783.49 L1014.4,783.53 L1017.4,783.61 L1020.4,783.71 L1023.4,783.83 L1026.4,783.98 L1029.4,784.14 L1032.4,784.31 L1035.4,784.49 L1038.4,784.67 L1041.4,784.90 L1044.4,785.17 L1047.4,785.48 L1050.4,785.83 L1053.4,786.23 L1056.4,786.66 L1059.4,787.13 L1062.4,787.65 L1065.4,788.25 L1068.4,789.11 L1071.4,790.19 L1074.4,791.41 L1077.4,792.71 L1080.4,794.02 L1083.4,795.28 L1086.4,796.42 L1089.4,797.37 L1092.4,798.12 L1095.4,798.87 L1098.4,799.62 L1101.4,800.35 L1104.4,801.01 L1107.4,801.59 L1110.4,802.07 L1113.4,802.40 L1116.4,802.57 L1119.4,802.57 L1122.4,802.45 L1125.4,802.25 L1128.4,802.00 L1131.4,801.72 L1134.4,801.44 L1137.4,801.20 L1140.4,801.01 L1143.4,800.90 L1146.4,800.89 L1149.4,800.89 L1152.4,800.89 L1155.4,800.89 L1158.4,800.89 L1161.4,800.89 L1164.4,800.89 L1167.4,800.89 L1170.4,800.89 L1173.4,800.89 L1176.4,800.89 L1179.4,800.89 L1182.4,800.89 L1185.4,800.89 L1188.4,800.89 L1191.4,800.89 L1194.4,800.89 L1197.4,800.89 L1200.4,800.89 L1203.4,800.89 L1206.4,800.89 L1209.4,800.89 L1212.4,800.89 L1215.4,800.89 L1218.4,800.89 L1221.4,800.89 L1224.4,800.89 L1227.4,800.89 L1230.4,800.89 L1233.4,800.89 L1236.4,800.89 L1239.4,800.89 L1242.4,800.89 L1245.4,800.89 L1248.4,800.89 L1251.4,800.89 L1254.4,800.87 L1257.4,800.73 L1260.4,800.48 L1263.4,800.17 L1266.4,799.82 L1269.4,799.47 L1272.4,799.15 L1275.4,798.91 L1278.4,798.77 L1281.4,798.77 L1284.4,798.91 L1287.4,799.16 L1290.4,799.47 L1293.4,799.82 L1296.4,800.17 L1299.4,800.49 L1302.4,800.73 L1305.4,800.87 L1308.4,800.89 L1311.4,800.89 L1314.4,800.89 L1317.4,800.89 L1320.4,800.89 L1323.4,800.89 L1326.4,800.89 L1329.4,800.89 L1332.4,800.89 L1335.4,800.89 L1338.4,800.89 L1341.4,800.89 L1344.4,800.89 L1347.4,800.89 L1350.4,800.89 L1353.4,800.89 L1356.4,800.89 L1359.4,800.89 L1362.4,800.89 L1365.4,800.89 L1368.4,800.89 L1371.4,800.89 L1374.4,800.89 L1377.4,800.89 L1380.4,800.89 L1383.4,800.89 L1386.4,800.89 L1389.4,800.89 L1392.4,800.89 L1395.4,800.89 L1398.4,800.89 L1401.4,800.89 L1404.4,800.89 L1407.4,800.89 L1410.4,800.89 L1413.4,800.89 L1416.4,800.89 L1419.4,800.89 L1422.4,800.89 L1425.4,800.89 L1428.4,800.89 L1431.4,800.89 L1434.4,800.89 L1437.4,800.89 L1440.4,800.89 L1443.4,800.89 L1446.4,800.89 L1449.4,800.89 L1452.4,800.89 L1455.4,800.89 L1458.4,800.89 L1461.4,800.89 L1464.4,800.89 L1467.4,800.89 L1470.4,800.89 L1473.4,800.89 L1476.4,800.89 L1479.4,800.89 L1482.4,800.89 L1485.4,800.89 L1488.4,800.89 L1491.4,800.89 L1494.4,800.89 L1497.4,800.89 L1500.4,800.89 L1503.4,800.89 L1506.4,800.89 L1509.4,800.89 L1512.4,800.89 L1515.4,800.89 L1518.4,800.89 L1521.4,800.89 L1524.4,800.89 L1527.4,800.89 L1530.4,800.89 L1533.4,800.89 L1536.4,800.89 L1539.4,800.89 L1542.4,800.89 L1545.4,800.89 L1548.4,800.89 L1551.4,800.89 L1554.4,800.89 L1557.4,800.89 L1560.4,800.89 L1563.4,800.89 L1566.4,800.89 L1569.4,800.89 L1572.4,800.89 L1575.4,800.89 L1578.4,800.89 L1581.4,800.89 L1584.4,800.89 L1587.4,800.89 L1590.4,800.89 L1593.4,800.89 L1596.4,800.89 L1599.4,800.89 L1602.4,800.89 L1605.4,800.89 L1608.4,800.89 L1611.4,800.89 L1614.4,800.89 L1617.4,800.89 L1620.4,800.89 L1623.4,800.89 L1626.4,800.89 L1629.4,800.89 L1632.4,800.89 L1635.4,800.89 L1638.4,800.89 L1641.4,800.89 L1644.4,800.89 L1647.4,800.89 L1650.4,800.89 L1653.4,800.89 L1656.4,800.89 L1659.4,800.89 L1662.4,800.89 L1665.4,800.89 L1668.4,800.89 L1671.4,800.89 L1674.4,800.89 L1677.4,800.89 L1680.4,800.89 L1683.4,800.89 L1685.5,800.89" fill="none" stroke="#0000ff" stroke-width="5.2" stroke-linejoin="round" stroke-linecap="round"/>
<polygon points="280.10,108.30 300.71,144.00 259.49,144.00" fill="#0000ff" stroke="#0000ff" stroke-width="2.2" stroke-linejoin="round"/>
<polygon points="334.18,108.30 354.79,144.00 313.57,144.00" fill="#0000ff" stroke="#0000ff" stroke-width="2.2" stroke-linejoin="round"/>
<polygon points="388.26,145.20 408.87,180.90 367.65,180.90" fill="#0000ff" stroke="#0000ff" stroke-width="2.2" stroke-linejoin="round"/>
<polygon points="442.34,228.50 462.95,264.20 421.73,264.20" fill="#0000ff" stroke="#0000ff" stroke-width="2.2" stroke-linejoin="round"/>
<polygon points="496.42,358.60 517.03,394.30 475.81,394.30" fill="#0000ff" stroke="#0000ff" stroke-width="2.2" stroke-linejoin="round"/>
<polygon points="550.50,489.50 571.11,525.20 529.89,525.20" fill="#0000ff" stroke="#0000ff" stroke-width="2.2" stroke-linejoin="round"/>
<polygon points="604.58,653.75 625.19,689.45 583.97,689.45" fill="#0000ff" stroke="#0000ff" stroke-width="2.2" stroke-linejoin="round"/>
<polygon points="658.66,757.35 679.27,793.05 638.05,793.05" fill="#0000ff" stroke="#0000ff" stroke-width="2.2" stroke-linejoin="round"/>
<polygon points="712.74,816.00 733.35,851.70 692.13,851.70" fill="#0000ff" stroke="#0000ff" stroke-width="2.2" stroke-linejoin="round"/>
<polygon points="766.82,838.60 787.43,874.30 746.21,874.30" fill="#0000ff" stroke="#0000ff" stroke-width="2.2" stroke-linejoin="round"/>
<polygon points="820.90,859.40 841.51,895.10 800.29,895.10" fill="#0000ff" stroke="#0000ff" stroke-width="2.2" stroke-linejoin="round"/>
<polygon points="874.98,852.70 895.59,888.40 854.37,888.40" fill="#0000ff" stroke="#0000ff" stroke-width="2.2" stroke-linejoin="round"/>
<polygon points="929.06,850.00 949.67,885.70 908.45,885.70" fill="#0000ff" stroke="#0000ff" stroke-width="2.2" stroke-linejoin="round"/>
<polygon points="983.14,858.80 1003.75,894.50 962.53,894.50" fill="#0000ff" stroke="#0000ff" stroke-width="2.2" stroke-linejoin="round"/>
<polygon points="1037.22,854.90 1057.83,890.60 1016.61,890.60" fill="#0000ff" stroke="#0000ff" stroke-width="2.2" stroke-linejoin="round"/>
<polygon points="1091.30,869.60 1111.91,905.30 1070.69,905.30" fill="#0000ff" stroke="#0000ff" stroke-width="2.2" stroke-linejoin="round"/>
<polygon points="1145.38,873.20 1165.99,908.90 1124.77,908.90" fill="#0000ff" stroke="#0000ff" stroke-width="2.2" stroke-linejoin="round"/>
<polygon points="1199.46,873.20 1220.07,908.90 1178.85,908.90" fill="#0000ff" stroke="#0000ff" stroke-width="2.2" stroke-linejoin="round"/>
<polygon points="1253.54,873.20 1274.15,908.90 1232.93,908.90" fill="#0000ff" stroke="#0000ff" stroke-width="2.2" stroke-linejoin="round"/>
<polygon points="1307.62,873.20 1328.23,908.90 1287.01,908.90" fill="#0000ff" stroke="#0000ff" stroke-width="2.2" stroke-linejoin="round"/>
<polygon points="1361.70,873.20 1382.31,908.90 1341.09,908.90" fill="#0000ff" stroke="#0000ff" stroke-width="2.2" stroke-linejoin="round"/>
<polygon points="1415.78,873.20 1436.39,908.90 1395.17,908.90" fill="#0000ff" stroke="#0000ff" stroke-width="2.2" stroke-linejoin="round"/>
<polygon points="1469.86,873.20 1490.47,908.90 1449.25,908.90" fill="#0000ff" stroke="#0000ff" stroke-width="2.2" stroke-linejoin="round"/>
<polygon points="1523.94,873.20 1544.55,908.90 1503.33,908.90" fill="#0000ff" stroke="#0000ff" stroke-width="2.2" stroke-linejoin="round"/>
<polygon points="1578.02,873.20 1598.63,908.90 1557.41,908.90" fill="#0000ff" stroke="#0000ff" stroke-width="2.2" stroke-linejoin="round"/>
<polygon points="1632.10,873.20 1652.71,908.90 1611.49,908.90" fill="#0000ff" stroke="#0000ff" stroke-width="2.2" stroke-linejoin="round"/>
<polygon points="1686.18,873.20 1706.79,908.90 1665.57,908.90" fill="#0000ff" stroke="#0000ff" stroke-width="2.2" stroke-linejoin="round"/>
<path transform="scale(1,1.12)" d="M279.4,117.68 L282.4,117.68 L285.4,117.68 L288.4,117.68 L291.4,117.68 L294.4,117.68 L297.4,117.68 L300.4,117.68 L303.4,117.68 L306.4,117.68 L309.4,117.68 L312.4,117.68 L315.4,117.68 L318.4,117.68 L321.4,117.68 L324.4,117.68 L327.4,117.68 L330.4,117.68 L333.4,117.68 L336.4,117.68 L339.4,117.68 L342.4,117.69 L345.4,117.70 L348.4,117.71 L351.4,117.72 L354.4,117.73 L357.4,117.75 L360.4,117.77 L363.4,117.92 L366.4,118.34 L369.4,119.00 L372.4,119.85 L375.4,120.85 L378.4,121.99 L381.4,123.21 L384.4,124.49 L387.4,125.78 L390.4,127.19 L393.4,128.87 L396.4,130.80 L399.4,132.94 L402.4,135.29 L405.4,137.81 L408.4,140.49 L411.4,143.31 L414.4,146.23 L417.4,149.43 L420.4,153.07 L423.4,157.10 L426.4,161.41 L429.4,165.94 L432.4,170.61 L435.4,175.34 L438.4,180.04 L441.4,184.64 L444.4,189.15 L447.4,193.68 L450.4,198.23 L453.4,202.80 L456.4,207.40 L459.4,212.02 L462.4,216.69 L465.4,221.39 L468.4,226.14 L471.4,230.94 L474.4,235.79 L477.4,240.69 L480.4,245.66 L483.4,250.69 L486.4,255.80 L489.4,260.97 L492.4,266.23 L495.4,271.57 L498.4,277.00 L501.4,282.54 L504.4,288.17 L507.4,293.90 L510.4,299.72 L513.4,305.62 L516.4,311.60 L519.4,317.66 L522.4,323.78 L525.4,329.96 L528.4,336.21 L531.4,342.50 L534.4,348.84 L537.4,355.23 L540.4,361.65 L543.4,368.11 L546.4,374.59 L549.4,381.10 L552.4,387.67 L555.4,394.37 L558.4,401.20 L561.4,408.13 L564.4,415.15 L567.4,422.24 L570.4,429.39 L573.4,436.58 L576.4,443.79 L579.4,451.01 L582.4,458.23 L585.4,465.41 L588.4,472.56 L591.4,479.66 L594.4,486.68 L597.4,493.61 L600.4,500.44 L603.4,507.15 L606.4,513.78 L609.4,520.40 L612.4,527.02 L615.4,533.63 L618.4,540.21 L621.4,546.77 L624.4,553.28 L627.4,559.76 L630.4,566.18 L633.4,572.54 L636.4,578.84 L639.4,585.06 L642.4,591.20 L645.4,597.24 L648.4,603.20 L651.4,609.04 L654.4,614.78 L657.4,620.39 L660.4,625.91 L663.4,631.39 L666.4,636.82 L669.4,642.21 L672.4,647.53 L675.4,652.80 L678.4,658.00 L681.4,663.14 L684.4,668.20 L687.4,673.18 L690.4,678.07 L693.4,682.88 L696.4,687.59 L699.4,692.21 L702.4,696.72 L705.4,701.12 L708.4,705.40 L711.4,709.57 L714.4,713.66 L717.4,717.74 L720.4,721.81 L723.4,725.85 L726.4,729.85 L729.4,733.80 L732.4,737.68 L735.4,741.49 L738.4,745.21 L741.4,748.83 L744.4,752.33 L747.4,755.70 L750.4,758.94 L753.4,762.02 L756.4,764.94 L759.4,767.69 L762.4,770.24 L765.4,772.59 L768.4,774.76 L771.4,776.82 L774.4,778.77 L777.4,780.61 L780.4,782.34 L783.4,783.96 L786.4,785.45 L789.4,786.83 L792.4,788.09 L795.4,789.26 L798.4,790.40 L801.4,791.50 L804.4,792.53 L807.4,793.50 L810.4,794.38 L813.4,795.15 L816.4,795.80 L819.4,796.32 L822.4,796.71 L825.4,797.04 L828.4,797.33 L831.4,797.59 L834.4,797.82 L837.4,798.03 L840.4,798.24 L843.4,798.46 L846.4,798.68 L849.4,798.93 L852.4,799.19 L855.4,799.46 L858.4,799.73 L861.4,799.98 L864.4,800.23 L867.4,800.44 L870.4,800.63 L873.4,800.77 L876.4,800.87 L879.4,800.96 L882.4,801.02 L885.4,801.08 L888.4,801.13 L891.4,801.19 L894.4,801.25 L897.4,801.31 L900.4,801.40 L903.4,801.51 L906.4,801.69 L909.4,801.91 L912.4,802.15 L915.4,802.39 L918.4,802.62 L921.4,802.82 L924.4,802.96 L927.4,803.03 L930.4,802.98 L933.4,802.74 L936.4,802.35 L939.4,801.87 L942.4,801.34 L945.4,800.82 L948.4,800.36 L951.4,800.01 L954.4,799.83 L957.4,799.84 L960.4,799.91 L963.4,800.03 L966.4,800.18 L969.4,800.34 L972.4,800.50 L975.4,800.64 L978.4,800.74 L981.4,800.80 L984.4,800.72 L987.4,800.33 L990.4,799.68 L993.4,798.88 L996.4,797.99 L999.4,797.12 L1002.4,796.36 L1005.4,795.78 L1008.4,795.47 L1011.4,795.52 L1014.4,795.91 L1017.4,796.56 L1020.4,797.36 L1023.4,798.24 L1026.4,799.11 L1029.4,799.88 L1032.4,800.47 L1035.4,800.78 L1038.4,800.78 L1041.4,800.63 L1044.4,800.38 L1047.4,800.07 L1050.4,799.74 L1053.4,799.40 L1056.4,799.11 L1059.4,798.88 L1062.4,798.76 L1065.4,798.78 L1068.4,798.92 L1071.4,799.17 L1074.4,799.48 L1077.4,799.81 L1080.4,800.15 L1083.4,800.44 L1086.4,800.67 L1089.4,800.79 L1092.4,800.77 L1095.4,800.59 L1098.4,800.28 L1101.4,799.89 L1104.4,799.47 L1107.4,799.05 L1110.4,798.67 L1113.4,798.39 L1116.4,798.23 L1119.4,798.22 L1122.4,798.25 L1125.4,798.31 L1128.4,798.38 L1131.4,798.47 L1134.4,798.56 L1137.4,798.65 L1140.4,798.74 L1143.4,798.81 L1146.4,798.87 L1149.4,798.92 L1152.4,798.96 L1155.4,799.01 L1158.4,799.05 L1161.4,799.09 L1164.4,799.14 L1167.4,799.19 L1170.4,799.25 L1173.4,799.33 L1176.4,799.43 L1179.4,799.55 L1182.4,799.68 L1185.4,799.83 L1188.4,799.99 L1191.4,800.17 L1194.4,800.35 L1197.4,800.54 L1200.4,800.74 L1203.4,801.03 L1206.4,801.36 L1209.4,801.73 L1212.4,802.11 L1215.4,802.46 L1218.4,802.76 L1221.4,802.99 L1224.4,803.11 L1227.4,803.10 L1230.4,802.93 L1233.4,802.64 L1236.4,802.27 L1239.4,801.86 L1242.4,801.46 L1245.4,801.09 L1248.4,800.81 L1251.4,800.65 L1254.4,800.65 L1257.4,800.85 L1260.4,801.20 L1263.4,801.65 L1266.4,802.15 L1269.4,802.65 L1272.4,803.09 L1275.4,803.44 L1278.4,803.63 L1281.4,803.65 L1284.4,803.57 L1287.4,803.42 L1290.4,803.24 L1293.4,803.04 L1296.4,802.83 L1299.4,802.65 L1302.4,802.50 L1305.4,802.42 L1308.4,802.47 L1311.4,802.90 L1314.4,803.66 L1317.4,804.65 L1320.4,805.74 L1323.4,806.84 L1326.4,807.83 L1329.4,808.60 L1332.4,809.04 L1335.4,809.07 L1338.4,808.82 L1341.4,808.38 L1344.4,807.80 L1347.4,807.16 L1350.4,806.52 L1353.4,805.94 L1356.4,805.48 L1359.4,805.22 L1362.4,805.19 L1365.4,805.29 L1368.4,805.46 L1371.4,805.71 L1374.4,806.00 L1377.4,806.33 L1380.4,806.67 L1383.4,807.01 L1386.4,807.34 L1389.4,807.64 L1392.4,807.99 L1395.4,808.40 L1398.4,808.83 L1401.4,809.25 L1404.4,809.64 L1407.4,809.98 L1410.4,810.23 L1413.4,810.38 L1416.4,810.39 L1419.4,810.28 L1422.4,810.07 L1425.4,809.81 L1428.4,809.51 L1431.4,809.21 L1434.4,808.93 L1437.4,808.72 L1440.4,808.59 L1443.4,808.59 L1446.4,808.78 L1449.4,809.13 L1452.4,809.58 L1455.4,810.09 L1458.4,810.61 L1461.4,811.07 L1464.4,811.44 L1467.4,811.66 L1470.4,811.67 L1473.4,811.42 L1476.4,810.95 L1479.4,810.35 L1482.4,809.66 L1485.4,808.97 L1488.4,808.35 L1491.4,807.85 L1494.4,807.55 L1497.4,807.50 L1500.4,807.51 L1503.4,807.53 L1506.4,807.56 L1509.4,807.59 L1512.4,807.64 L1515.4,807.69 L1518.4,807.75 L1521.4,807.81 L1524.4,807.91 L1527.4,808.22 L1530.4,808.74 L1533.4,809.40 L1536.4,810.13 L1539.4,810.86 L1542.4,811.52 L1545.4,812.04 L1548.4,812.35 L1551.4,812.41 L1554.4,812.37 L1557.4,812.29 L1560.4,812.19 L1563.4,812.07 L1566.4,811.95 L1569.4,811.84 L1572.4,811.76 L1575.4,811.71 L1578.4,811.71 L1581.4,811.90 L1584.4,812.27 L1587.4,812.76 L1590.4,813.31 L1593.4,813.87 L1596.4,814.38 L1599.4,814.79 L1602.4,815.04 L1605.4,815.08 L1608.4,814.94 L1611.4,814.69 L1614.4,814.34 L1617.4,813.95 L1620.4,813.54 L1623.4,813.17 L1626.4,812.86 L1629.4,812.65 L1632.4,812.58 L1635.4,812.54 L1638.4,812.51 L1641.4,812.49 L1644.4,812.46 L1647.4,812.44 L1650.4,812.43 L1653.4,812.42 L1656.4,812.41 L1659.4,812.42 L1662.4,812.56 L1665.4,812.84 L1668.4,813.21 L1671.4,813.62 L1674.4,814.05 L1677.4,814.44 L1680.4,814.76 L1683.4,814.96 L1686.4,815.00 L1689.4,814.97 L1692.4,814.93 L1695.4,814.86 L1698.4,814.79 L1701.4,814.72 L1704.4,814.65 L1707.4,814.60 L1710.4,814.56 L1713.4,814.55 L1716.4,814.58 L1719.4,814.62 L1722.4,814.68 L1725.4,814.74 L1728.4,814.82 L1731.4,814.88 L1734.4,814.94 L1737.4,814.98 L1740.4,815.00 L1743.4,815.02 L1746.4,815.03 L1749.4,815.04 L1752.4,815.06 L1755.4,815.07 L1758.4,815.07 L1761.4,815.08 L1764.4,815.09 L1767.4,815.09 L1770.3,815.09" fill="none" stroke="#007878" stroke-width="5.2" stroke-linejoin="round" stroke-linecap="round"/>
<polygon points="280.10,155.60 300.71,119.90 259.49,119.90" fill="#007878" stroke="#007878" stroke-width="2.2" stroke-linejoin="round"/>
<polygon points="334.18,155.60 354.79,119.90 313.57,119.90" fill="#007878" stroke="#007878" stroke-width="2.2" stroke-linejoin="round"/>
<polygon points="388.26,164.75 408.87,129.05 367.65,129.05" fill="#007878" stroke="#007878" stroke-width="2.2" stroke-linejoin="round"/>
<polygon points="442.34,231.00 462.95,195.30 421.73,195.30" fill="#007878" stroke="#007878" stroke-width="2.2" stroke-linejoin="round"/>
<polygon points="496.42,328.60 517.03,292.90 475.81,292.90" fill="#007878" stroke="#007878" stroke-width="2.2" stroke-linejoin="round"/>
<polygon points="550.50,451.60 571.11,415.90 529.89,415.90" fill="#007878" stroke="#007878" stroke-width="2.2" stroke-linejoin="round"/>
<polygon points="604.58,593.00 625.19,557.30 583.97,557.30" fill="#007878" stroke="#007878" stroke-width="2.2" stroke-linejoin="round"/>
<polygon points="658.66,719.80 679.27,684.10 638.05,684.10" fill="#007878" stroke="#007878" stroke-width="2.2" stroke-linejoin="round"/>
<polygon points="712.74,819.50 733.35,783.80 692.13,783.80" fill="#007878" stroke="#007878" stroke-width="2.2" stroke-linejoin="round"/>
<polygon points="766.82,889.70 787.43,854.00 746.21,854.00" fill="#007878" stroke="#007878" stroke-width="2.2" stroke-linejoin="round"/>
<polygon points="820.90,915.80 841.51,880.10 800.29,880.10" fill="#007878" stroke="#007878" stroke-width="2.2" stroke-linejoin="round"/>
<polygon points="874.98,920.70 895.59,885.00 854.37,885.00" fill="#007878" stroke="#007878" stroke-width="2.2" stroke-linejoin="round"/>
<polygon points="929.06,923.20 949.67,887.50 908.45,887.50" fill="#007878" stroke="#007878" stroke-width="2.2" stroke-linejoin="round"/>
<polygon points="983.14,920.70 1003.75,885.00 962.53,885.00" fill="#007878" stroke="#007878" stroke-width="2.2" stroke-linejoin="round"/>
<polygon points="1037.22,920.70 1057.83,885.00 1016.61,885.00" fill="#007878" stroke="#007878" stroke-width="2.2" stroke-linejoin="round"/>
<polygon points="1091.30,920.70 1111.91,885.00 1070.69,885.00" fill="#007878" stroke="#007878" stroke-width="2.2" stroke-linejoin="round"/>
<polygon points="1145.38,918.50 1165.99,882.80 1124.77,882.80" fill="#007878" stroke="#007878" stroke-width="2.2" stroke-linejoin="round"/>
<polygon points="1199.46,920.50 1220.07,884.80 1178.85,884.80" fill="#007878" stroke="#007878" stroke-width="2.2" stroke-linejoin="round"/>
<polygon points="1253.54,920.50 1274.15,884.80 1232.93,884.80" fill="#007878" stroke="#007878" stroke-width="2.2" stroke-linejoin="round"/>
<polygon points="1307.62,922.50 1328.23,886.80 1287.01,886.80" fill="#007878" stroke="#007878" stroke-width="2.2" stroke-linejoin="round"/>
<polygon points="1361.70,925.60 1382.31,889.90 1341.09,889.90" fill="#007878" stroke="#007878" stroke-width="2.2" stroke-linejoin="round"/>
<polygon points="1415.78,931.45 1436.39,895.75 1395.17,895.75" fill="#007878" stroke="#007878" stroke-width="2.2" stroke-linejoin="round"/>
<polygon points="1469.86,932.90 1490.47,897.20 1449.25,897.20" fill="#007878" stroke="#007878" stroke-width="2.2" stroke-linejoin="round"/>
<polygon points="1523.94,928.60 1544.55,892.90 1503.33,892.90" fill="#007878" stroke="#007878" stroke-width="2.2" stroke-linejoin="round"/>
<polygon points="1578.02,932.90 1598.63,897.20 1557.41,897.20" fill="#007878" stroke="#007878" stroke-width="2.2" stroke-linejoin="round"/>
<polygon points="1632.10,933.90 1652.71,898.20 1611.49,898.20" fill="#007878" stroke="#007878" stroke-width="2.2" stroke-linejoin="round"/>
<polygon points="1686.18,936.60 1706.79,900.90 1665.57,900.90" fill="#007878" stroke="#007878" stroke-width="2.2" stroke-linejoin="round"/>
<polygon points="1740.26,936.60 1760.87,900.90 1719.65,900.90" fill="#007878" stroke="#007878" stroke-width="2.2" stroke-linejoin="round"/>
<path transform="scale(1,1.12)" d="M279.4,117.41 L282.4,117.38 L285.4,117.36 L288.4,117.34 L291.4,117.32 L294.4,117.30 L297.4,117.29 L300.4,117.27 L303.4,117.26 L306.4,117.25 L309.4,117.25 L312.4,117.24 L315.4,117.24 L318.4,117.24 L321.4,117.23 L324.4,117.23 L327.4,117.23 L330.4,117.23 L333.4,117.23 L336.4,117.24 L339.4,117.26 L342.4,117.30 L345.4,117.36 L348.4,117.43 L351.4,117.51 L354.4,117.61 L357.4,117.73 L360.4,117.85 L363.4,118.24 L366.4,119.12 L369.4,120.43 L372.4,122.09 L375.4,124.03 L378.4,126.17 L381.4,128.45 L384.4,130.78 L387.4,133.09 L390.4,135.52 L393.4,138.27 L396.4,141.30 L399.4,144.61 L402.4,148.15 L405.4,151.90 L408.4,155.84 L411.4,159.94 L414.4,164.16 L417.4,168.50 L420.4,172.91 L423.4,177.37 L426.4,181.85 L429.4,186.33 L432.4,190.78 L435.4,195.18 L438.4,199.49 L441.4,203.69 L444.4,207.82 L447.4,211.97 L450.4,216.14 L453.4,220.33 L456.4,224.55 L459.4,228.78 L462.4,233.04 L465.4,237.33 L468.4,241.64 L471.4,245.98 L474.4,250.35 L477.4,254.75 L480.4,259.18 L483.4,263.64 L486.4,268.13 L489.4,272.66 L492.4,277.23 L495.4,281.83 L498.4,286.43 L501.4,290.97 L504.4,295.48 L507.4,299.98 L510.4,304.47 L513.4,308.98 L516.4,313.52 L519.4,318.11 L522.4,322.77 L525.4,327.51 L528.4,332.36 L531.4,337.33 L534.4,342.43 L537.4,347.69 L540.4,353.12 L543.4,358.73 L546.4,364.56 L549.4,370.60 L552.4,376.95 L555.4,383.66 L558.4,390.73 L561.4,398.11 L564.4,405.79 L567.4,413.74 L570.4,421.92 L573.4,430.31 L576.4,438.88 L579.4,447.61 L582.4,456.46 L585.4,465.41 L588.4,474.44 L591.4,483.50 L594.4,492.58 L597.4,501.65 L600.4,510.68 L603.4,519.65 L606.4,528.70 L609.4,538.15 L612.4,547.93 L615.4,557.98 L618.4,568.24 L621.4,578.66 L624.4,589.16 L627.4,599.69 L630.4,610.18 L633.4,620.57 L636.4,630.81 L639.4,640.82 L642.4,650.55 L645.4,659.93 L648.4,668.91 L651.4,677.43 L654.4,685.41 L657.4,692.80 L660.4,699.78 L663.4,706.81 L666.4,713.84 L669.4,720.84 L672.4,727.76 L675.4,734.56 L678.4,741.21 L681.4,747.66 L684.4,753.86 L687.4,759.78 L690.4,765.38 L693.4,770.61 L696.4,775.43 L699.4,779.80 L702.4,783.68 L705.4,787.02 L708.4,789.79 L711.4,791.95 L714.4,793.62 L717.4,795.19 L720.4,796.67 L723.4,798.06 L726.4,799.37 L729.4,800.60 L732.4,801.75 L735.4,802.82 L738.4,803.83 L741.4,804.77 L744.4,805.64 L747.4,806.45 L750.4,807.21 L753.4,807.91 L756.4,808.56 L759.4,809.16 L762.4,809.72 L765.4,810.24 L768.4,810.71 L771.4,811.12 L774.4,811.49 L777.4,811.82 L780.4,812.14 L783.4,812.44 L786.4,812.74 L789.4,813.05 L792.4,813.39 L795.4,813.78 L798.4,814.22 L801.4,814.70 L804.4,815.19 L807.4,815.67 L810.4,816.10 L813.4,816.48 L816.4,816.77 L819.4,816.94 L822.4,817.02 L825.4,817.08 L828.4,817.14 L831.4,817.19 L834.4,817.23 L837.4,817.27 L840.4,817.30 L843.4,817.31 L846.4,817.32 L849.4,817.23 L852.4,816.83 L855.4,816.20 L858.4,815.42 L861.4,814.57 L864.4,813.74 L867.4,813.02 L870.4,812.47 L873.4,812.20 L876.4,812.19 L879.4,812.20 L882.4,812.21 L885.4,812.23 L888.4,812.25 L891.4,812.28 L894.4,812.31 L897.4,812.35 L900.4,812.40 L903.4,812.56 L906.4,813.15 L909.4,814.07 L912.4,815.20 L915.4,816.45 L918.4,817.68 L921.4,818.79 L924.4,819.66 L927.4,820.19 L930.4,820.37 L933.4,820.52 L936.4,820.65 L939.4,820.77 L942.4,820.87 L945.4,820.95 L948.4,821.01 L951.4,821.05 L954.4,821.07 L957.4,821.01 L960.4,820.70 L963.4,820.19 L966.4,819.53 L969.4,818.80 L972.4,818.04 L975.4,817.33 L978.4,816.72 L981.4,816.27 L984.4,815.99 L987.4,815.72 L990.4,815.47 L993.4,815.24 L996.4,815.03 L999.4,814.85 L1002.4,814.70 L1005.4,814.61 L1008.4,814.56 L1011.4,814.59 L1014.4,814.78 L1017.4,815.10 L1020.4,815.53 L1023.4,816.04 L1026.4,816.61 L1029.4,817.20 L1032.4,817.80 L1035.4,818.37 L1038.4,818.94 L1041.4,819.63 L1044.4,820.43 L1047.4,821.27 L1050.4,822.10 L1053.4,822.88 L1056.4,823.54 L1059.4,824.04 L1062.4,824.33 L1065.4,824.41 L1068.4,824.46 L1071.4,824.50 L1074.4,824.54 L1077.4,824.58 L1080.4,824.60 L1083.4,824.62 L1086.4,824.64 L1089.4,824.64 L1092.4,824.58 L1095.4,824.21 L1098.4,823.60 L1101.4,822.82 L1104.4,821.97 L1107.4,821.13 L1110.4,820.38 L1113.4,819.81 L1116.4,819.50 L1119.4,819.47 L1122.4,819.50 L1125.4,819.55 L1128.4,819.62 L1131.4,819.71 L1134.4,819.81 L1137.4,819.91 L1140.4,820.02 L1143.4,820.13 L1146.4,820.24 L1149.4,820.37 L1152.4,820.51 L1155.4,820.66 L1158.4,820.82 L1161.4,820.99 L1164.4,821.17 L1167.4,821.35 L1170.4,821.53 L1173.4,821.71 L1176.4,821.91 L1179.4,822.13 L1182.4,822.35 L1185.4,822.58 L1188.4,822.80 L1191.4,823.01 L1194.4,823.20 L1197.4,823.37 L1200.4,823.51 L1203.4,823.63 L1206.4,823.73 L1209.4,823.82 L1212.4,823.91 L1215.4,824.00 L1218.4,824.09 L1221.4,824.19 L1224.4,824.31 L1227.4,824.46 L1230.4,824.65 L1233.4,824.89 L1236.4,825.15 L1239.4,825.42 L1242.4,825.67 L1245.4,825.90 L1248.4,826.09 L1251.4,826.22 L1254.4,826.28 L1257.4,826.32 L1260.4,826.37 L1263.4,826.41 L1266.4,826.44 L1269.4,826.47 L1272.4,826.49 L1275.4,826.51 L1278.4,826.52 L1281.4,826.49 L1284.4,826.27 L1287.4,825.87 L1290.4,825.34 L1293.4,824.72 L1296.4,824.05 L1299.4,823.37 L1302.4,822.72 L1305.4,822.16 L1308.4,821.69 L1311.4,821.20 L1314.4,820.68 L1317.4,820.16 L1320.4,819.66 L1323.4,819.22 L1326.4,818.84 L1329.4,818.57 L1332.4,818.41 L1335.4,818.43 L1338.4,818.72 L1341.4,819.24 L1344.4,819.95 L1347.4,820.79 L1350.4,821.69 L1353.4,822.62 L1356.4,823.50 L1359.4,824.28 L1362.4,824.93 L1365.4,825.54 L1368.4,826.13 L1371.4,826.71 L1374.4,827.27 L1377.4,827.83 L1380.4,828.39 L1383.4,828.94 L1386.4,829.51 L1389.4,830.09 L1392.4,830.77 L1395.4,831.51 L1398.4,832.27 L1401.4,833.02 L1404.4,833.70 L1407.4,834.28 L1410.4,834.72 L1413.4,834.96 L1416.4,834.98 L1419.4,834.79 L1422.4,834.44 L1425.4,833.97 L1428.4,833.41 L1431.4,832.81 L1434.4,832.21 L1437.4,831.63 L1440.4,831.13 L1443.4,830.73 L1446.4,830.31 L1449.4,829.87 L1452.4,829.44 L1455.4,829.02 L1458.4,828.65 L1461.4,828.33 L1464.4,828.10 L1467.4,827.97 L1470.4,827.95 L1473.4,828.03 L1476.4,828.18 L1479.4,828.38 L1482.4,828.62 L1485.4,828.89 L1488.4,829.17 L1491.4,829.44 L1494.4,829.69 L1497.4,829.91 L1500.4,830.16 L1503.4,830.43 L1506.4,830.71 L1509.4,830.99 L1512.4,831.25 L1515.4,831.46 L1518.4,831.63 L1521.4,831.72 L1524.4,831.73 L1527.4,831.66 L1530.4,831.52 L1533.4,831.32 L1536.4,831.08 L1539.4,830.81 L1542.4,830.53 L1545.4,830.25 L1548.4,829.98 L1551.4,829.73 L1554.4,829.43 L1557.4,829.09 L1560.4,828.73 L1563.4,828.37 L1566.4,828.03 L1569.4,827.74 L1572.4,827.52 L1575.4,827.39 L1578.4,827.37 L1581.4,827.48 L1584.4,827.69 L1587.4,827.98 L1590.4,828.34 L1593.4,828.75 L1596.4,829.19 L1599.4,829.64 L1602.4,830.08 L1605.4,830.51 L1608.4,831.05 L1611.4,831.69 L1614.4,832.40 L1617.4,833.12 L1620.4,833.80 L1623.4,834.39 L1626.4,834.85 L1629.4,835.12 L1632.4,835.17 L1635.4,835.07 L1638.4,834.85 L1641.4,834.55 L1644.4,834.17 L1647.4,833.73 L1650.4,833.26 L1653.4,832.77 L1656.4,832.29 L1659.4,831.81 L1662.4,831.25 L1665.4,830.59 L1668.4,829.87 L1671.4,829.12 L1674.4,828.35 L1677.4,827.62 L1680.4,826.93 L1683.4,826.33 L1686.4,825.84 L1689.4,825.36 L1692.4,824.87 L1695.4,824.39 L1698.4,823.94 L1701.4,823.54 L1704.4,823.20 L1707.4,822.95 L1710.4,822.80 L1713.4,822.77 L1716.4,822.88 L1719.4,823.11 L1722.4,823.43 L1725.4,823.82 L1728.4,824.27 L1731.4,824.74 L1734.4,825.22 L1737.4,825.68 L1740.4,826.10 L1743.4,826.52 L1746.4,826.95 L1749.4,827.40 L1752.4,827.86 L1755.4,828.34 L1758.4,828.83 L1761.4,829.33 L1764.4,829.84 L1767.4,830.37 L1770.3,830.89" fill="none" stroke="#ff00ff" stroke-width="5.2" stroke-linejoin="round" stroke-linecap="round"/>
<polygon points="256.10,131.50 291.80,110.89 291.80,152.11" fill="#ff00ff" stroke="#ff00ff" stroke-width="2.2" stroke-linejoin="round"/>
<polygon points="310.18,131.30 345.88,110.69 345.88,151.91" fill="#ff00ff" stroke="#ff00ff" stroke-width="2.2" stroke-linejoin="round"/>
<polygon points="364.26,149.20 399.96,128.59 399.96,169.81" fill="#ff00ff" stroke="#ff00ff" stroke-width="2.2" stroke-linejoin="round"/>
<polygon points="418.34,228.50 454.04,207.89 454.04,249.11" fill="#ff00ff" stroke="#ff00ff" stroke-width="2.2" stroke-linejoin="round"/>
<polygon points="472.42,316.20 508.12,295.59 508.12,336.81" fill="#ff00ff" stroke="#ff00ff" stroke-width="2.2" stroke-linejoin="round"/>
<polygon points="526.50,416.00 562.20,395.39 562.20,436.61" fill="#ff00ff" stroke="#ff00ff" stroke-width="2.2" stroke-linejoin="round"/>
<polygon points="580.58,583.60 616.28,562.99 616.28,604.21" fill="#ff00ff" stroke="#ff00ff" stroke-width="2.2" stroke-linejoin="round"/>
<polygon points="634.66,777.40 670.36,756.79 670.36,798.01" fill="#ff00ff" stroke="#ff00ff" stroke-width="2.2" stroke-linejoin="round"/>
<polygon points="688.74,887.40 724.44,866.79 724.44,908.01" fill="#ff00ff" stroke="#ff00ff" stroke-width="2.2" stroke-linejoin="round"/>
<polygon points="742.82,907.60 778.52,886.99 778.52,928.21" fill="#ff00ff" stroke="#ff00ff" stroke-width="2.2" stroke-linejoin="round"/>
<polygon points="796.90,915.00 832.60,894.39 832.60,935.61" fill="#ff00ff" stroke="#ff00ff" stroke-width="2.2" stroke-linejoin="round"/>
<polygon points="850.98,909.65 886.68,889.04 886.68,930.26" fill="#ff00ff" stroke="#ff00ff" stroke-width="2.2" stroke-linejoin="round"/>
<polygon points="905.06,918.70 940.76,898.09 940.76,939.31" fill="#ff00ff" stroke="#ff00ff" stroke-width="2.2" stroke-linejoin="round"/>
<polygon points="959.14,914.10 994.84,893.49 994.84,934.71" fill="#ff00ff" stroke="#ff00ff" stroke-width="2.2" stroke-linejoin="round"/>
<polygon points="1013.22,916.80 1048.92,896.19 1048.92,937.41" fill="#ff00ff" stroke="#ff00ff" stroke-width="2.2" stroke-linejoin="round"/>
<polygon points="1067.30,923.60 1103.00,902.99 1103.00,944.21" fill="#ff00ff" stroke="#ff00ff" stroke-width="2.2" stroke-linejoin="round"/>
<polygon points="1121.38,918.60 1157.08,897.99 1157.08,939.21" fill="#ff00ff" stroke="#ff00ff" stroke-width="2.2" stroke-linejoin="round"/>
<polygon points="1175.46,922.25 1211.16,901.64 1211.16,942.86" fill="#ff00ff" stroke="#ff00ff" stroke-width="2.2" stroke-linejoin="round"/>
<polygon points="1229.54,925.40 1265.24,904.79 1265.24,946.01" fill="#ff00ff" stroke="#ff00ff" stroke-width="2.2" stroke-linejoin="round"/>
<polygon points="1283.62,920.55 1319.32,899.94 1319.32,941.16" fill="#ff00ff" stroke="#ff00ff" stroke-width="2.2" stroke-linejoin="round"/>
<polygon points="1337.70,923.60 1373.40,902.99 1373.40,944.21" fill="#ff00ff" stroke="#ff00ff" stroke-width="2.2" stroke-linejoin="round"/>
<polygon points="1391.78,935.20 1427.48,914.59 1427.48,955.81" fill="#ff00ff" stroke="#ff00ff" stroke-width="2.2" stroke-linejoin="round"/>
<polygon points="1445.86,927.30 1481.56,906.69 1481.56,947.91" fill="#ff00ff" stroke="#ff00ff" stroke-width="2.2" stroke-linejoin="round"/>
<polygon points="1499.94,931.55 1535.64,910.94 1535.64,952.16" fill="#ff00ff" stroke="#ff00ff" stroke-width="2.2" stroke-linejoin="round"/>
<polygon points="1554.02,926.65 1589.72,906.04 1589.72,947.26" fill="#ff00ff" stroke="#ff00ff" stroke-width="2.2" stroke-linejoin="round"/>
<polygon points="1608.10,935.40 1643.80,914.79 1643.80,956.01" fill="#ff00ff" stroke="#ff00ff" stroke-width="2.2" stroke-linejoin="round"/>
<polygon points="1662.18,925.10 1697.88,904.49 1697.88,945.71" fill="#ff00ff" stroke="#ff00ff" stroke-width="2.2" stroke-linejoin="round"/>
<polygon points="1716.26,925.10 1751.96,904.49 1751.96,945.71" fill="#ff00ff" stroke="#ff00ff" stroke-width="2.2" stroke-linejoin="round"/>
</g>
<text class="tk" transform="translate(241.8,1075.0) scale(1.008,1.04)" text-anchor="end">0</text>
<text class="tk" transform="translate(241.8,890.3) scale(1.008,1.04)" text-anchor="end">20</text>
<text class="tk" transform="translate(241.8,705.5) scale(1.008,1.04)" text-anchor="end">40</text>
<text class="tk" transform="translate(241.8,520.8) scale(1.008,1.04)" text-anchor="end">60</text>
<text class="tk" transform="translate(241.8,336.0) scale(1.008,1.04)" text-anchor="end">80</text>
<text class="tk" transform="translate(241.8,151.3) scale(1.008,1.04)" text-anchor="end">100</text>
<text class="tk" transform="translate(279.9,1221.6) scale(1.008,1.04)" text-anchor="middle">0</text>
<text class="tk" transform="translate(550.3,1221.6) scale(1.008,1.04)" text-anchor="middle">100</text>
<text class="tk" transform="translate(820.8,1221.6) scale(1.008,1.04)" text-anchor="middle">200</text>
<text class="tk" transform="translate(1091.2,1221.6) scale(1.008,1.04)" text-anchor="middle">300</text>
<text class="tk" transform="translate(1361.6,1221.6) scale(1.008,1.04)" text-anchor="middle">400</text>
<text class="tk" transform="translate(1632.0,1221.6) scale(1.008,1.04)" text-anchor="middle">500</text>
<text class="ti" transform="translate(1023.8,1356.4) scale(0.991,1)" text-anchor="middle">Time (s)</text>
<text class="ti" transform="translate(89.1,638.7) rotate(-90) scale(1.0057,1)" text-anchor="middle">Weight (%)</text>
<line x1="1251" y1="104.6" x2="1372" y2="104.6" stroke="#000000" stroke-width="5.8" stroke-linecap="round"/>
<rect x="1295.30" y="88.60" width="32.00" height="32.00" fill="#000000"/>
<text class="lg" x="1386" y="122.6">TPU</text>
<line x1="1251" y1="171.4" x2="1372" y2="171.4" stroke="#ff0000" stroke-width="5.8" stroke-linecap="round"/>
<circle cx="1311.30" cy="171.40" r="18.1" fill="#ff0000"/>
<text class="lg" x="1386" y="189.4">TPU/CAHPi5</text>
<line x1="1251" y1="238.4" x2="1372" y2="238.4" stroke="#0000ff" stroke-width="5.8" stroke-linecap="round"/>
<polygon points="1311.30,214.60 1331.91,250.30 1290.69,250.30" fill="#0000ff" stroke="#0000ff" stroke-width="2.2" stroke-linejoin="round"/>
<text class="lg" x="1386" y="256.4">TPU/CAHPi10</text>
<line x1="1251" y1="305.4" x2="1372" y2="305.4" stroke="#007878" stroke-width="5.8" stroke-linecap="round"/>
<polygon points="1311.30,329.20 1331.91,293.50 1290.69,293.50" fill="#007878" stroke="#007878" stroke-width="2.2" stroke-linejoin="round"/>
<text class="lg" x="1386" y="323.4">TPU/CAHPi20</text>
<line x1="1251" y1="372.5" x2="1372" y2="372.5" stroke="#ff00ff" stroke-width="5.8" stroke-linecap="round"/>
<polygon points="1287.50,372.50 1323.20,351.89 1323.20,393.11" fill="#ff00ff" stroke="#ff00ff" stroke-width="2.2" stroke-linejoin="round"/>
<text class="lg" x="1386" y="390.5">TPU/AHPi</text>
</svg></body></html>
